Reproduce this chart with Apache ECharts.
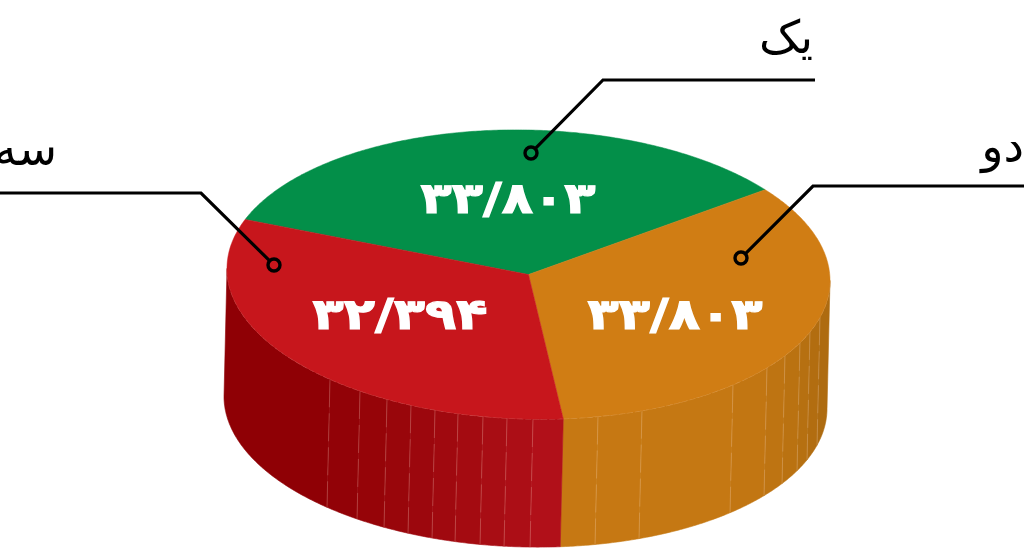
<!DOCTYPE html>
<html><head><meta charset="utf-8">
<style>html,body{margin:0;padding:0;background:#fff}#c{width:1024px;height:549px}</style>
<script src="https://cdn.jsdelivr.net/npm/echarts@6/dist/echarts.min.js"></script>
</head><body><div id="c"></div>
<script>
// data
const names = ['یک', 'دو', 'سه'];
const values = [33.803, 33.803, 32.394];
const valueLabels = ['۳۳/۸۰۳', '۳۳/۸۰۳', '۳۲/۳۹۴'];

// layout and style
const CX = 528.5, CY = 274.5, RX = 301.5, RY = 144.5, DEPTH = 128, SHIFT = -3, TILT = 0.02;
const START_ANGLE = 160;
const topColors = ['#038f49', '#d07d14', '#c7161c'];
const wallBandEdges = [null,
  [598, 642, 733, 767, 785, 800, 810, 820],
  [330, 360, 387, 411, 435, 458, 483, 507, 533]];
const wallBandColors = [null,
  ['#c67813', '#c67813', '#c57813', '#c27612', '#be7412', '#ba7211', '#b67011', '#b26d10', '#ae6b10'],
  ['#8f0005', '#920207', '#960408', '#99060b', '#9c070d', '#a0090f', '#a40b11', '#a80d14', '#ac0e16', '#b11019']];
const labelPos = [[508, 202], [675, 318], [400, 318]];
const leaders = [
  [[531, 153], [603, 80], [815, 80]],
  [[741, 258], [813, 186], [1024, 186]],
  [[274, 265], [201, 193], [0, 193]]];
const namePos = [[813, 41], [1024, 150], [57, 153]];
const FONT = '"DejaVu Sans"';

const total = values.reduce((a, b) => a + b, 0);
const ranges = [];
values.reduce((a, v) => { const b = a - v / total * 360; ranges.push([a, b]); return b; }, START_ANGLE);
const rad = d => d * Math.PI / 180;
const pt = (deg, dy, dx) => {
  const ox = RX * Math.cos(rad(deg));
  return [CX + (dx || 0) + ox, CY + (dy || 0) - RY * Math.sin(rad(deg)) + TILT * ox];
};
const arc = (a, b, dy, dx) => {
  const n = Math.max(2, Math.ceil(Math.abs(a - b) / 0.5)), out = [];
  for (let i = 0; i <= n; i++) out.push(pt(a + (b - a) * i / n, dy, dx));
  return out;
};
const xToDeg = x => -Math.acos(Math.max(-1, Math.min(1, (x - CX) / RX))) * 180 / Math.PI;

function renderWall(params) {
  const i = params.dataIndex, edges = wallBandEdges[i];
  if (!edges) return { type: 'group', children: [] };
  const norm = d => { while (d > 0) d -= 360; while (d < -360) d += 360; return d; };
  const seam = norm(ranges[1][1]);
  const a = i === 2 ? -180 : seam, b = i === 2 ? seam : 0;
  const degs = [a].concat(edges.map(xToDeg), [b]);
  const children = [];
  for (let k = 0; k < degs.length - 1; k++) {
    const top = arc(degs[k], degs[k + 1], 0, 0), bot = arc(degs[k + 1], degs[k], DEPTH, SHIFT);
    const col = wallBandColors[i][k];
    children.push({ type: 'polygon', shape: { points: top.concat(bot) }, style: { fill: col, stroke: col, lineWidth: 0.6 } });
  }
  for (let k = 1; k < degs.length - 1; k++) {
    const p = pt(degs[k], 0, 0), q = pt(degs[k], DEPTH, SHIFT);
    children.push({ type: 'line', shape: { x1: p[0], y1: p[1], x2: q[0], y2: q[1] },
      style: { stroke: 'rgba(255,220,200,0.3)', lineWidth: 0.8, lineDash: [28, 6] } });
  }
  children.push({ type: 'polyline', shape: { points: arc(a, b, 0, 0) },
    style: { fill: null, stroke: 'rgba(255,225,205,0.4)', lineWidth: 0.8, lineDash: [6, 2] } });
  return { type: 'group', children };
}

function renderTop(params) {
  const i = params.dataIndex, r = ranges[i];
  return { type: 'group', children: [
    { type: 'polygon', shape: { points: [[CX, CY]].concat(arc(r[0], r[1], 0, 0)) },
      style: { fill: topColors[i], stroke: topColors[i], lineWidth: 0.5 } },
    { type: 'text', x: labelPos[i][0], y: labelPos[i][1], scaleX: 1.19,
      style: { text: valueLabels[i], x: 0, y: 0, fill: '#fff', stroke: '#fff', lineWidth: 1.2,
        font: 'bold 43px ' + FONT, align: 'center', verticalAlign: 'middle' } }
  ] };
}

function renderLeader(params) {
  const i = params.dataIndex, l = leaders[i], d = l[0], e = l[1];
  const len = Math.hypot(e[0] - d[0], e[1] - d[1]), R = 6;
  const s = [d[0] + (e[0] - d[0]) / len * R, d[1] + (e[1] - d[1]) / len * R];
  return { type: 'group', children: [
    { type: 'polyline', shape: { points: [s, e, l[2]] }, style: { fill: null, stroke: '#000', lineWidth: 3.2 } },
    { type: 'circle', shape: { cx: d[0], cy: d[1], r: R }, style: { fill: topColors[i], stroke: '#000', lineWidth: 3.4 } },
    { type: 'text', style: { text: names[i], x: namePos[i][0], y: namePos[i][1], fill: '#000',
      font: '46px ' + FONT, align: 'right', verticalAlign: 'middle' } }
  ] };
}

const rows = values.map((v, i) => ({ name: names[i], value: v }));
const chart = echarts.init(document.getElementById('c'), null, { renderer: 'canvas' });
chart.setOption({
  animation: false,
  backgroundColor: '#fff',
  series: [
    { type: 'custom', coordinateSystem: 'none', z: 1, silent: true, renderItem: renderWall, data: rows },
    { type: 'custom', coordinateSystem: 'none', z: 2, silent: true, renderItem: renderTop, data: rows },
    { type: 'custom', coordinateSystem: 'none', z: 3, silent: true, renderItem: renderLeader, data: rows }
  ]
});
</script></body></html>
